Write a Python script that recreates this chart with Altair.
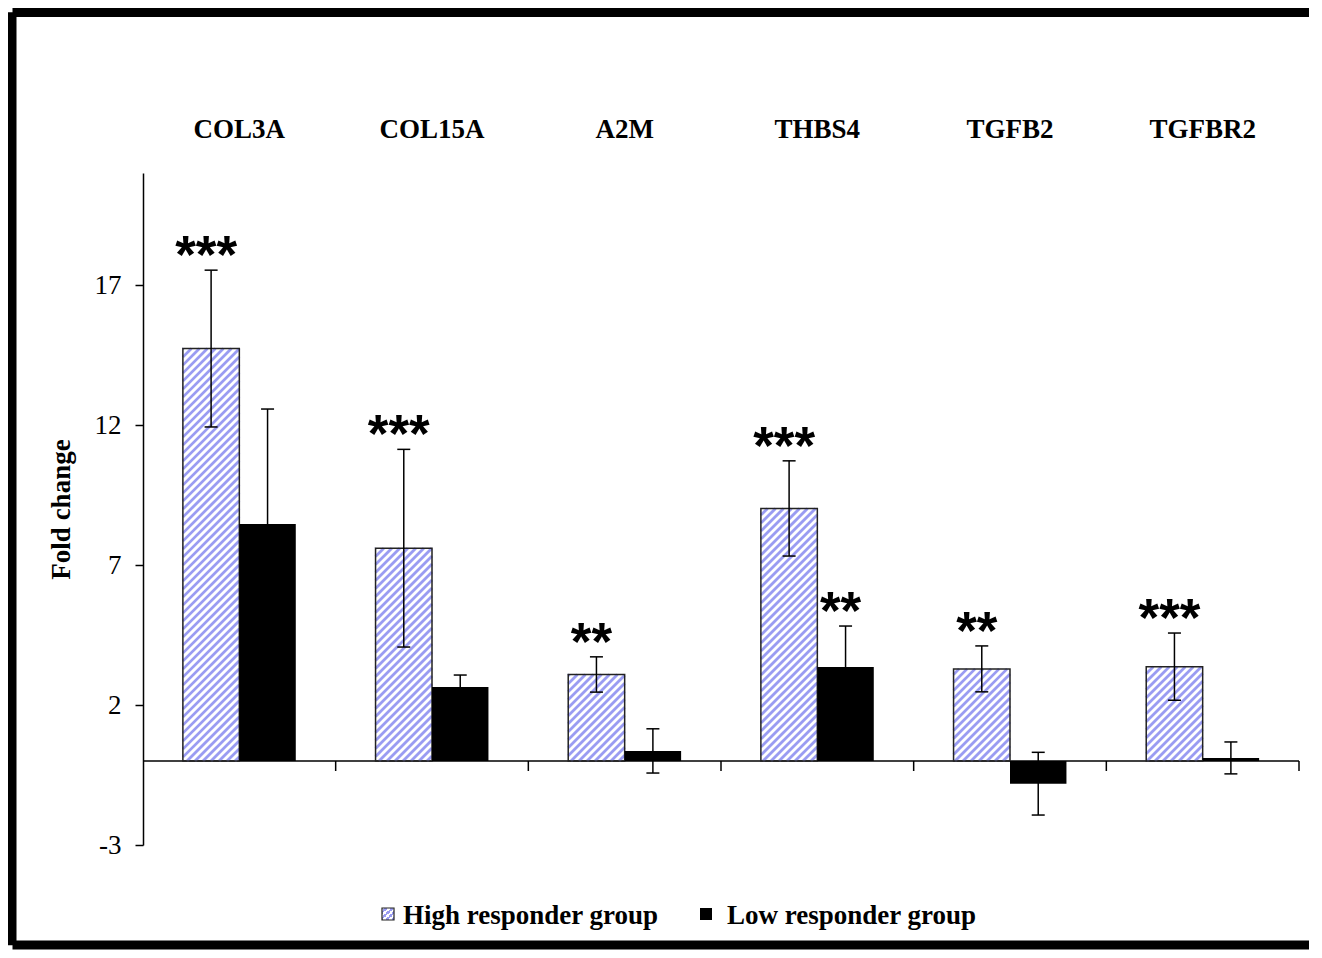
import altair as alt
import numpy as np
import pandas as pd

# ---------------- data ----------------
genes = ["COL3A", "COL15A", "A2M", "THBS4", "TGFB2", "TGFBR2"]
high_vals = [14.73, 7.60, 3.09, 9.02, 3.29, 3.37]
high_err = [2.80, 3.53, 0.63, 1.70, 0.82, 1.20]
low_vals = [8.46, 2.64, 0.36, 3.36, -0.81, 0.11]
low_err = [4.11, 0.43, 0.79, 1.46, 1.12, 0.57]
high_sig = ["***", "***", "**", "***", "**", "***"]
low_sig = ["", "", "", "**", "", ""]
groups = ["High responder group", "Low responder group"]
y_ticks = [-3, 2, 7, 12, 17]

# ---------------- layout constants ----------------
W, H = 1156, 672
Y_MIN, Y_MAX = -3, 21
N = len(genes)
SX = W / N
SY = H / (Y_MAX - Y_MIN)
BAR_START = 0.207
BAR_W = 0.293
HATCH = "#9a9cf2"
SERIF = "Liberation Serif"

rows = []
for i, g in enumerate(genes):
    for grp, vals, errs, sig, off in [
        (groups[0], high_vals, high_err, high_sig, 0.0),
        (groups[1], low_vals, low_err, low_sig, BAR_W),
    ]:
        x0 = i + BAR_START + off
        x1 = x0 + BAR_W
        xc = (x0 + x1) / 2
        v, e = vals[i], errs[i]
        rows.append(dict(gene=g, group=grp, value=v, x0=x0, x1=x1, xc=xc,
                         lo=v - e, hi=v + e, sig=sig[i],
                         c0=xc - 6.5 / SX, c1=xc + 6.5 / SX))
df = pd.DataFrame(rows)

# diagonal hatch lines for the high-responder bars
PERIOD = 8.0
stripes = []
for i, v in enumerate(high_vals):
    X0 = (i + BAR_START) * SX
    X1 = (i + BAR_START + BAR_W) * SX
    Yt = (Y_MAX - max(v, 0)) * SY
    Yb = (Y_MAX - min(v, 0)) * SY
    c = np.ceil((X0 + Yt) / PERIOD) * PERIOD
    while c < X1 + Yb:
        pa = max(X0, c - Yb)
        pb = min(X1, c - Yt)
        if pb > pa:
            stripes.append(dict(sx0=pa / SX, sy0=Y_MAX - (c - pa) / SY,
                                sx1=pb / SX, sy1=Y_MAX - (c - pb) / SY))
        c += PERIOD
stripe_df = pd.DataFrame(stripes)

cat_df = pd.DataFrame({"gene": genes, "mid": [i + 0.5 for i in range(N)]})
bound_df = pd.DataFrame({"b": list(range(1, N + 1)), "t0": [0.0] * N,
                         "t1": [-10 / SY] * N})
one = pd.DataFrame({"a": [0]})

x_scale = alt.Scale(domain=[0, N], nice=False, zero=False)
y_scale = alt.Scale(domain=[Y_MIN, Y_MAX], nice=False, zero=False)
yaxis = alt.Axis(values=y_ticks, grid=False, tickSize=8, tickColor="black",
                 tickWidth=1.5, domainColor="black", domainWidth=1.5,
                 labelFont=SERIF, labelFontSize=27, labelColor="black",
                 labelPadding=14, labelExpr="toString(datum.value)",
                 title="Fold change", titleFont=SERIF,
                 titleFontSize=27, titleFontWeight="bold", titleColor="black",
                 titleX=-82, titleBaseline="middle", titleAlign="center")


def X(f):
    return alt.X(f, type="quantitative", scale=x_scale, axis=None)


def Y(f):
    return alt.Y(f, type="quantitative", scale=y_scale, axis=yaxis)


high = alt.Chart(df).transform_filter(alt.datum.group == groups[0])
low = alt.Chart(df).transform_filter(alt.datum.group == groups[1])

baseline = alt.Chart(one).mark_rule(color="black", strokeWidth=1.5).encode(
    x=alt.datum(0, type="quantitative", scale=x_scale, axis=None),
    x2=alt.datum(N),
    y=alt.datum(0, type="quantitative", scale=y_scale, axis=yaxis),
)
bticks = alt.Chart(bound_df).mark_rule(color="black", strokeWidth=1.5).encode(
    x=X("b"), y=Y("t0"), y2="t1")

stripe_layer = alt.Chart(stripe_df).mark_rule(
    color=HATCH, strokeWidth=2.8, strokeCap="butt").encode(
    x=X("sx0"), x2="sx1", y=Y("sy0"), y2="sy1")

high_outline = high.mark_rect(fillOpacity=0, stroke="#222222",
                              strokeWidth=1.5).encode(
    x=X("x0"), x2="x1", y=Y("value"), y2=alt.datum(0))
low_bars = low.mark_rect(color="black").encode(
    x=X("x0"), x2="x1", y=Y("value"), y2=alt.datum(0))

err = alt.Chart(df).mark_rule(color="black", strokeWidth=1.5).encode(
    x=X("xc"), y=Y("lo"), y2="hi")
cap_hi = alt.Chart(df).mark_rule(color="black", strokeWidth=1.5).encode(
    x=X("c0"), x2="c1", y=Y("hi"))
cap_lo = alt.Chart(df).mark_rule(color="black", strokeWidth=1.5).encode(
    x=X("c0"), x2="c1", y=Y("lo"))

stars = alt.Chart(df).transform_filter(alt.datum.sig != "").mark_text(
    font="Liberation Sans", fontWeight="bold", fontSize=53, color="black",
    baseline="alphabetic", align="center", dy=3, dx=-5).encode(
    x=X("xc"), y=Y("hi"), text="sig:N")

gene_labels = alt.Chart(cat_df).mark_text(
    font=SERIF, fontWeight="bold", fontSize=27, color="black",
    baseline="alphabetic", align="center").encode(
    x=X("mid"), y=alt.value(-35), text="gene:N")

stops = []
for k in range(4):
    a = k / 4
    stops += [alt.GradientStop(color="white", offset=a),
              alt.GradientStop(color="white", offset=a + 0.125),
              alt.GradientStop(color=HATCH, offset=a + 0.125),
              alt.GradientStop(color=HATCH, offset=a + 0.25)]
hatch_grad = alt.LinearGradient(gradient="linear", stops=stops,
                                x1=0, y1=0, x2=1, y2=1)

leg_hatch = alt.Chart(one).mark_rect(fill=hatch_grad, stroke="#222222",
                                     strokeWidth=1.2).encode(
    x=alt.value(239), x2=alt.value(251), y=alt.value(735), y2=alt.value(747))
leg_black = alt.Chart(one).mark_rect(fill="black").encode(
    x=alt.value(557), x2=alt.value(569), y=alt.value(735), y2=alt.value(747))
leg_t1 = alt.Chart(one).mark_text(font=SERIF, fontWeight="bold", fontSize=27,
                                  color="black", align="left",
                                  baseline="alphabetic").encode(
    x=alt.value(260), y=alt.value(751), text=alt.value(groups[0]))
leg_t2 = alt.Chart(one).mark_text(font=SERIF, fontWeight="bold", fontSize=27,
                                  color="black", align="left",
                                  baseline="alphabetic").encode(
    x=alt.value(584), y=alt.value(751), text=alt.value(groups[1]))

# frame: left, top and bottom edges (the right edge is cut off in the original)
frame_left = alt.Chart(one).mark_rule(color="black", strokeWidth=8.5,
                                      strokeCap="butt").encode(
    x=alt.value(-130.75), y=alt.value(-160.75), y2=alt.value(772.25))
frame_top = alt.Chart(one).mark_rule(color="black", strokeWidth=9,
                                     strokeCap="butt").encode(
    x=alt.value(-130.5), x2=alt.value(1166), y=alt.value(-160.5))
frame_bottom = alt.Chart(one).mark_rule(color="black", strokeWidth=9,
                                        strokeCap="butt").encode(
    x=alt.value(-130.5), x2=alt.value(1166), y=alt.value(772))

chart = alt.layer(
    baseline, bticks, stripe_layer, high_outline, low_bars, err, cap_hi,
    cap_lo, stars, gene_labels, leg_hatch, leg_black, leg_t1, leg_t2,
    frame_left, frame_top, frame_bottom
).properties(width=W, height=H, padding=0, background="white"
).configure_view(strokeWidth=0)

chart.save("out.html", embed_options={"renderer": "svg", "actions": False})
